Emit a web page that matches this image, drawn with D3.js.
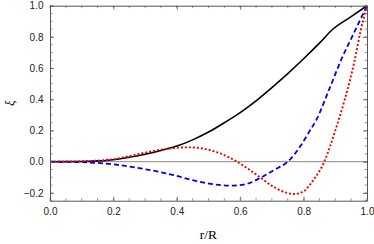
<!DOCTYPE html>
<html>
<head>
<meta charset="utf-8">
<script src="https://cdn.jsdelivr.net/npm/d3@7/dist/d3.min.js"></script>
<style>
html,body{margin:0;padding:0;background:#fff;}
svg{display:block;}
</style>
</head>
<body>
<svg id="chart" width="374" height="244"></svg>
<script>
// Data
const blackR = [0,0.1,0.15,0.2,0.25,0.3,0.35,0.4,0.45,0.5,0.55,0.6,0.65,0.7,0.75,0.8,0.85,0.892,0.95,1.0];
const blackV = [0,0.001,0.005,0.013,0.028,0.048,0.072,0.1,0.14,0.19,0.25,0.315,0.39,0.475,0.565,0.66,0.76,0.849,0.93,1.0];
const blueR = [0,0.1,0.2,0.3,0.38,0.47,0.52,0.57,0.62,0.67,0.71,0.75,0.79,0.82,0.84,0.88,0.92,0.96,1.0];
const blueV = [0,-0.003,-0.017,-0.048,-0.081,-0.128,-0.146,-0.154,-0.143,-0.096,-0.05,0,0.1,0.2,0.267,0.46,0.66,0.83,1.0];
const redR = [0,0.1,0.2,0.3,0.36,0.4,0.44,0.48,0.52,0.56,0.59,0.63,0.66,0.7,0.74,0.77,0.8,0.83,0.865,0.9,0.93,0.96,0.98,1.0];
const redV = [0,0.003,0.016,0.058,0.08,0.089,0.092,0.085,0.065,0.033,0,-0.053,-0.096,-0.155,-0.195,-0.207,-0.19,-0.12,0,0.2,0.4,0.64,0.84,1.0];
const xTicks = [0,0.2,0.4,0.6,0.8,1.0];
const yTicks = [-0.2,0,0.2,0.4,0.6,0.8,1.0];
const xLabel = "r/R";
const yLabel = "ξ";

const svg = d3.select("#chart");
const L = 50, R = 367, T = 5.7, B = 200.7;
const x = d3.scaleLinear().domain([0,1]).range([L,R]);
const y = d3.scaleLinear().domain([-0.25,1.0]).range([B,T]);

const frameColor = "#555";
const g = svg.append("g");

// zero line
g.append("line").attr("x1",x(0)).attr("x2",x(1)).attr("y1",y(0)).attr("y2",y(0))
  .attr("stroke","#888").attr("stroke-width",1);

const line = d3.line().x(d=>x(d[0])).y(d=>y(d[1])).curve(d3.curveMonotoneX);
const zip = (a,b)=>a.map((v,i)=>[v,b[i]]);

g.append("path").datum(zip(blackR,blackV)).attr("d",line)
  .attr("fill","none").attr("stroke","#000").attr("stroke-width",1.6);
g.append("path").datum(zip(blueR,blueV)).attr("d",line)
  .attr("fill","none").attr("stroke","#0000ee").attr("stroke-width",1.8)
  .attr("stroke-dasharray","5,3");
g.append("path").datum(zip(redR,redV)).attr("d",line)
  .attr("fill","none").attr("stroke","#ee0000").attr("stroke-width",1.9)
  .attr("stroke-dasharray","2,2");

// axes with inward ticks
function styleAxis(sel){
  sel.select(".domain").attr("stroke",frameColor).attr("stroke-width",1);
  sel.selectAll(".tick line").attr("stroke",frameColor).attr("stroke-width",0.8);
  sel.selectAll("text").attr("fill","#222").style("font-family","'Liberation Sans', Arial, sans-serif").style("font-size","10px");
}
const fmt = d => d3.format(".1f")(d).replace("-","−");
const minorX = d3.range(0,1.0001,0.05);
const minorY = d3.range(-0.25,1.0001,0.05);

// Bottom
const axB = svg.append("g").attr("transform",`translate(0,${B})`)
  .call(d3.axisBottom(x).tickValues(xTicks).tickFormat(fmt).tickSizeInner(-4).tickSizeOuter(0).tickPadding(7));
styleAxis(axB);
// Top
const axT = svg.append("g").attr("transform",`translate(0,${T})`)
  .call(d3.axisTop(x).tickValues(xTicks).tickFormat("").tickSizeInner(-4).tickSizeOuter(0));
styleAxis(axT);
// Left
const axL = svg.append("g").attr("transform",`translate(${L},0)`)
  .call(d3.axisLeft(y).tickValues(yTicks).tickFormat(fmt).tickSizeInner(-4).tickSizeOuter(0).tickPadding(6.5));
styleAxis(axL);
// Right
const axR = svg.append("g").attr("transform",`translate(${R},0)`)
  .call(d3.axisRight(y).tickValues(yTicks).tickFormat("").tickSizeInner(-4).tickSizeOuter(0));
styleAxis(axR);

// minor ticks
const mg = svg.append("g").attr("stroke",frameColor).attr("stroke-width",0.6);
minorX.forEach(v=>{
  mg.append("line").attr("x1",x(v)).attr("x2",x(v)).attr("y1",B).attr("y2",B-2.5);
  mg.append("line").attr("x1",x(v)).attr("x2",x(v)).attr("y1",T).attr("y2",T+2.5);
});
minorY.forEach(v=>{
  mg.append("line").attr("x1",L).attr("x2",L+2.5).attr("y1",y(v)).attr("y2",y(v));
  mg.append("line").attr("x1",R).attr("x2",R-2.5).attr("y1",y(v)).attr("y2",y(v));
});

// Labels
svg.append("text").attr("x",(L+R)/2).attr("y",239).attr("text-anchor","middle")
  .style("font-family","'Liberation Serif', 'Times New Roman', serif").style("font-size","13.5px").text(xLabel);
svg.append("text").attr("transform",`translate(14,${(T+B)/2}) rotate(-90)`).attr("text-anchor","middle")
  .style("font-family","'Liberation Serif', 'Times New Roman', serif").style("font-style","italic").style("font-size","13px").text(yLabel);
</script>
</body>
</html>
